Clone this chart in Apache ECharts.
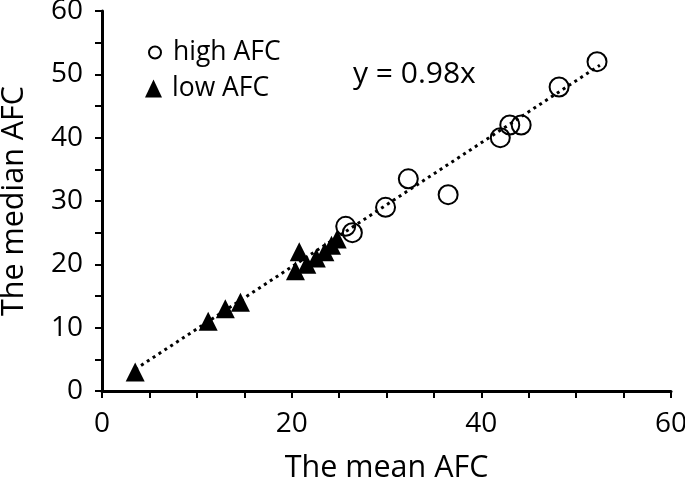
<!DOCTYPE html>
<html><head><meta charset="utf-8">
<script src="https://cdn.jsdelivr.net/npm/echarts@6/dist/echarts.min.js"></script>
<style>html,body{margin:0;padding:0;background:#fff}#c{width:685px;height:480px}</style>
</head><body><div id="c"></div>
<script>
var highAFC = [[25.7,26],[26.4,25],[29.9,29],[32.3,33.5],[36.5,31],[42.0,40],[43.0,42],[44.2,42],[48.2,48],[52.2,52]];
var lowAFC = [[3.5,3],[11.2,11],[13.0,13],[14.6,14],[20.4,19],[20.8,22],[21.6,20],[22.6,21],[23.5,22],[24.2,23],[24.8,24]];
var trendLine = [[3.5,3.43],[52.5,51.45]];
var xLabels = [0,20,40,60];
var yLabels = [0,10,20,30,40,50,60];
var equationText = 'y = 0.98x';

var font = 'Open Sans';
var chart = echarts.init(document.getElementById('c'));
chart.setOption({
  animation:false,
  backgroundColor:'#fff',
  grid:{left:102,right:14,top:11,bottom:89,containLabel:false,outerBoundsMode:'none'},
  legend:[
    {orient:'vertical', left:143, top:34, itemWidth:12, itemHeight:12,
     textStyle:{fontFamily:font,fontSize:26.5,color:'#000',padding:[0,0,0,7]},
     data:[{name:'high AFC',icon:'circle'}]},
    {orient:'vertical', left:140, top:70, itemWidth:17, itemHeight:18,
     textStyle:{fontFamily:font,fontSize:26.5,color:'#000',padding:[0,0,0,5]},
     data:[{name:'low AFC',icon:'triangle'}]}
  ],
  xAxis:{
    type:'value',min:0,max:60,interval:5,
    name:'The mean AFC',nameLocation:'middle',nameGap:62,
    nameTextStyle:{fontFamily:font,fontSize:30.5,color:'#000'},
    axisLine:{lineStyle:{color:'#000',width:3}},
    axisTick:{length:7,lineStyle:{color:'#000',width:2}},
    axisLabel:{fontFamily:font,fontSize:28,color:'#000',margin:19,
      formatter:function(v){return xLabels.indexOf(v)>=0?String(v):'';}},
    splitLine:{show:false}
  },
  yAxis:{
    type:'value',min:0,max:60,interval:5,
    name:'The median AFC',nameLocation:'middle',nameGap:72,
    nameTextStyle:{fontFamily:font,fontSize:30.5,color:'#000'},
    axisLine:{lineStyle:{color:'#000',width:3}},
    axisTick:{length:7,lineStyle:{color:'#000',width:2}},
    axisLabel:{fontFamily:font,fontSize:28,color:'#000',margin:19,
      formatter:function(v){return yLabels.indexOf(v)>=0?String(v):'';}},
    splitLine:{show:false}
  },
  graphic:[{type:'text',left:353,top:59,style:{text:equationText,fontFamily:font,fontSize:30,fill:'#000'}}],
  series:[
    {type:'line',data:trendLine,symbol:'none',silent:true,z:1,
     lineStyle:{color:'#000',width:3,type:[3,4]}},
    {name:'low AFC',type:'scatter',data:lowAFC,symbol:'triangle',symbolSize:19,z:3,
     itemStyle:{color:'#000',opacity:1}},
    {name:'high AFC',type:'scatter',data:highAFC,symbol:'circle',symbolSize:19,z:4,
     itemStyle:{color:'rgba(255,255,255,0)',borderColor:'#000',borderWidth:2,opacity:1}}
  ]
});
</script></body></html>
